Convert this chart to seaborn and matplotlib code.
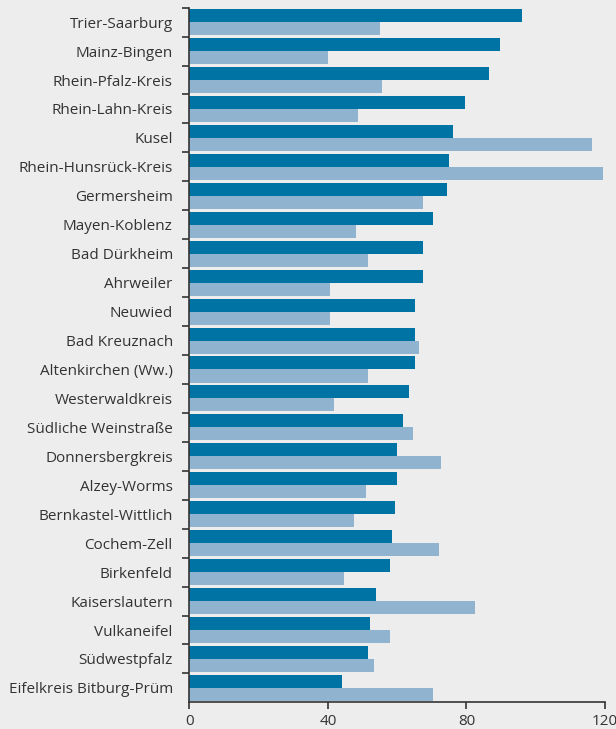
import pandas as pd
import numpy as np
import matplotlib.pyplot as plt
import seaborn as sns

# districts, top to bottom
districts = [
    "Trier-Saarburg", "Mainz-Bingen", "Rhein-Pfalz-Kreis", "Rhein-Lahn-Kreis",
    "Kusel", "Rhein-Hunsrück-Kreis", "Germersheim", "Mayen-Koblenz",
    "Bad Dürkheim", "Ahrweiler", "Neuwied", "Bad Kreuznach",
    "Altenkirchen (Ww.)", "Westerwaldkreis", "Südliche Weinstraße",
    "Donnersbergkreis", "Alzey-Worms", "Bernkastel-Wittlich", "Cochem-Zell",
    "Birkenfeld", "Kaiserslautern", "Vulkaneifel", "Südwestpfalz",
    "Eifelkreis Bitburg-Prüm",
]
series_a = [96.1, 89.7, 86.6, 79.6, 76.2, 75.0, 74.4, 70.4, 67.5, 67.5, 65.2, 65.2,
            65.2, 63.5, 61.7, 60.0, 60.0, 59.4, 58.5, 57.9, 53.9, 52.2, 51.5, 44.0]
series_b = [55.1, 40.0, 55.6, 48.7, 116.3, 119.5, 67.5, 48.1, 51.6, 40.6, 40.6, 66.4,
            51.6, 41.8, 64.6, 72.7, 51.0, 47.5, 72.1, 44.7, 82.5, 57.9, 53.2, 70.3]
series_names = ["A", "B"]
xticks = [0, 40, 80, 120]

df = pd.DataFrame({
    "district": districts * 2,
    "value": series_a + series_b,
    "series": [series_names[0]] * len(districts) + [series_names[1]] * len(districts),
})

bg = "#ededed"
sns.set_style("white")
plt.rcParams["font.family"] = ["Open Sans", "DejaVu Sans"]

fig = plt.figure(figsize=(6.16, 7.29), dpi=100, facecolor=bg)
ax = fig.add_axes([0.3076, 0.0365, 0.6745, 0.953])
ax.set_facecolor(bg)

sns.barplot(data=df, x="value", y="district", hue="series", orient="h",
            palette=["#0073a5", "#90b3d0"], width=0.9, gap=0, dodge=True,
            saturation=1, legend=False, linewidth=0, ax=ax)

n = len(districts)
ax.set_xlim(0, 120)
ax.set_ylim(n - 0.5, -0.5)
ax.set_xlabel("")
ax.set_ylabel("")

# labels at group centres, ticks at group boundaries
ax.set_yticks(np.arange(n) - 0.5)
ax.set_yticklabels([])
ax.set_yticks(np.arange(n), minor=True)
ax.set_yticklabels(districts, minor=True)
ax.tick_params(axis="y", which="major", length=5, width=1.2, color="#333333", left=True)
ax.tick_params(axis="y", which="minor", length=0, pad=12, labelsize=11, labelcolor="#333333")

ax.set_xticks(xticks)
ax.set_xticklabels([str(t) for t in xticks])
ax.tick_params(axis="x", length=5, width=1.2, color="#333333", bottom=True,
               labelsize=11, labelcolor="#333333", pad=3)

for s in ["top", "right"]:
    ax.spines[s].set_visible(False)
for s in ["left", "bottom"]:
    ax.spines[s].set_color("#333333")
    ax.spines[s].set_linewidth(1.2)

plt.savefig("out.png", dpi=100, facecolor=bg)
